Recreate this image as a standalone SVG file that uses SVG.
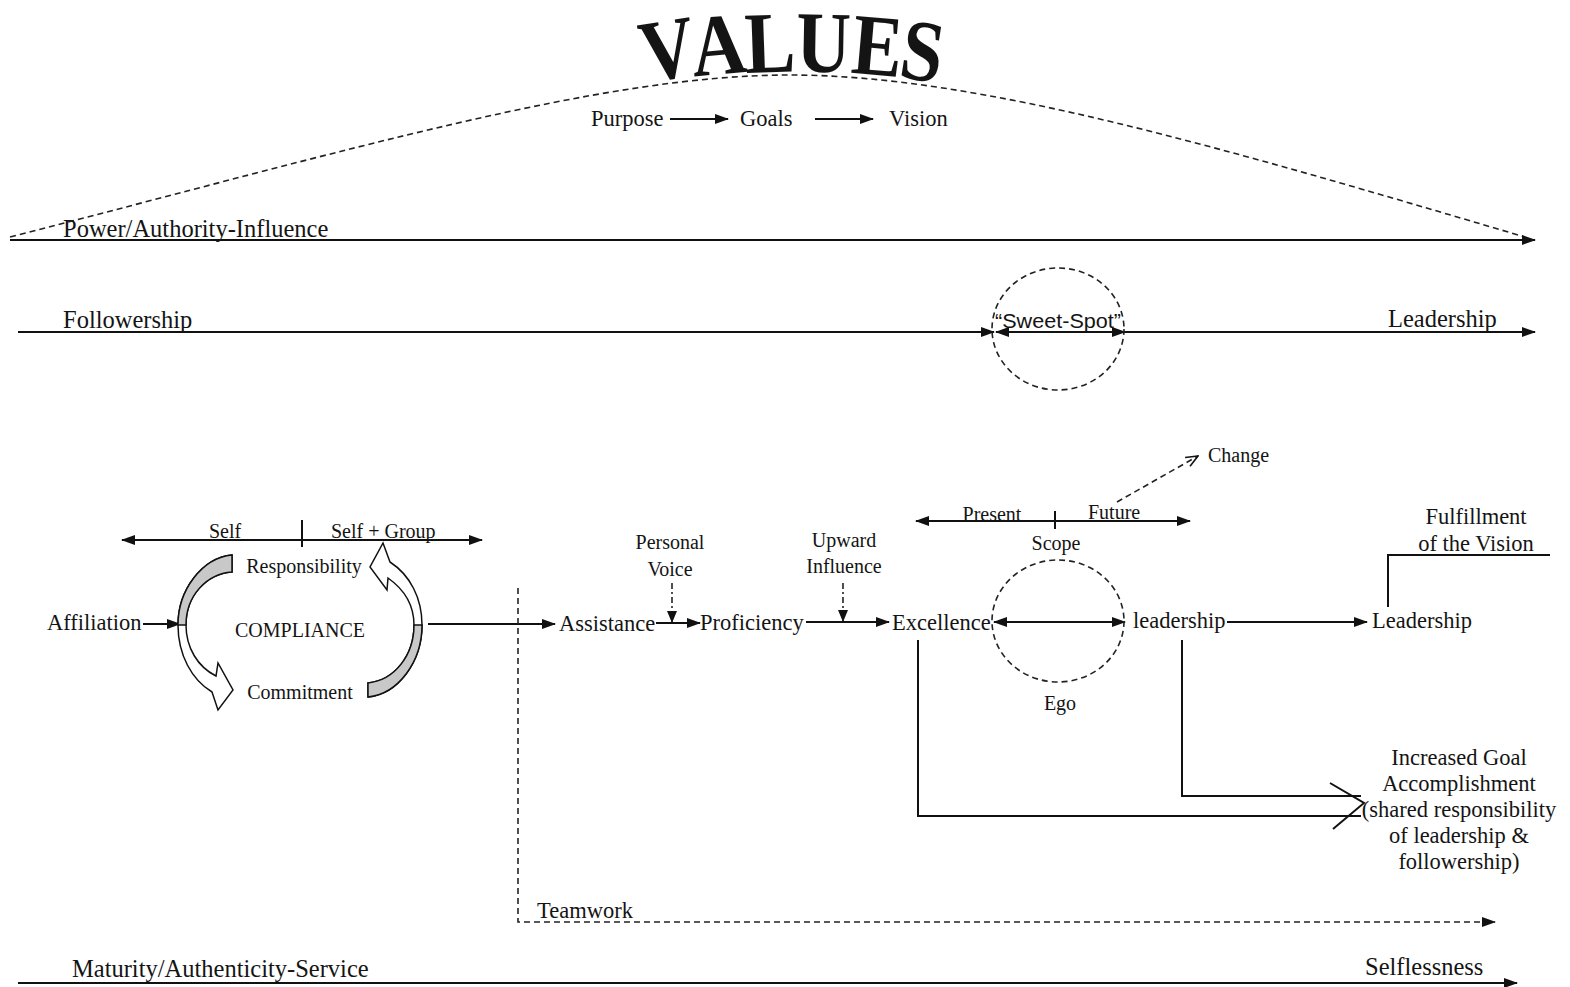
<svg xmlns="http://www.w3.org/2000/svg" width="1570" height="987" viewBox="0 0 1570 987">
<style>
text{font-family:"Liberation Serif","Times New Roman",serif;fill:#141414}
.big{font-size:24.5px}
.mid{font-size:22.5px}
.sm{font-size:20px}
.c{text-anchor:middle}
.val{font-size:84px;font-weight:bold;text-anchor:middle}
.ln{stroke:#111;stroke-width:2;fill:none}
.dash{stroke:#222;stroke-width:1.6;fill:none;stroke-dasharray:6 4}
.dd{stroke:#222;stroke-width:1.6;fill:none;stroke-dasharray:6 3 2 3}
.arr{stroke:#111;stroke-width:1.5;fill:#fff}
.gray{fill:#c8c8c8;stroke:#111;stroke-width:1.5}
</style>
<defs>
<marker id="ah" viewBox="0 0 14 10" refX="13" refY="5" markerWidth="14" markerHeight="10" orient="auto-start-reverse" markerUnits="userSpaceOnUse"><path d="M0,0 L14,5 L0,10 z" fill="#111"/></marker>
<marker id="ahs" viewBox="0 0 12 10" refX="11" refY="5" markerWidth="12" markerHeight="10" orient="auto" markerUnits="userSpaceOnUse"><path d="M0,0 L12,5 L0,10 z" fill="#111"/></marker>
<marker id="open" viewBox="0 0 14 12" refX="13" refY="6" markerWidth="14" markerHeight="12" orient="auto" markerUnits="userSpaceOnUse"><path d="M1,1 L13,6 L1,11" fill="none" stroke="#111" stroke-width="1.6"/></marker>
</defs>

<g id="title">
<text class="val" transform="translate(672,78) rotate(-9) scale(0.9,1.04)">V</text>
<text class="val" transform="translate(721,74) rotate(-5) scale(0.9,1.04)">A</text>
<text class="val" transform="translate(771,72) rotate(-2) scale(0.9,1.04)">L</text>
<text class="val" transform="translate(823,72) rotate(1) scale(0.9,1.04)">U</text>
<text class="val" transform="translate(875,75) rotate(5) scale(0.9,1.04)">E</text>
<text class="val" transform="translate(918,80) rotate(9) scale(0.9,1.04)">S</text>
</g>

<g id="connectors">
<path class="dash" d="M10,237 C350,150 600,75 790,75 C980,75 1230,150 1525,237"/>
<line class="ln" x1="670" y1="119" x2="728" y2="119" marker-end="url(#ah)"/>
<line class="ln" x1="815" y1="119" x2="873" y2="119" marker-end="url(#ah)"/>
<line class="ln" x1="10" y1="240" x2="1535" y2="240" marker-end="url(#ah)"/>
<line class="ln" x1="18" y1="332" x2="994" y2="332" marker-end="url(#ah)"/>
<line class="ln" x1="996" y1="332" x2="1125" y2="332" marker-start="url(#ah)" marker-end="url(#ah)"/>
<line class="ln" x1="1125" y1="332" x2="1535" y2="332" marker-end="url(#ah)"/>
<line class="ln" x1="122" y1="540" x2="482" y2="540" marker-start="url(#ah)" marker-end="url(#ah)"/>
<line class="ln" x1="302" y1="520" x2="302" y2="547" stroke-width="1.5"/>
<line class="ln" x1="143" y1="624" x2="180" y2="624" marker-end="url(#ah)"/>
<line class="ln" x1="428" y1="624" x2="555" y2="624" marker-end="url(#ah)"/>
<line class="ln" x1="656" y1="623" x2="700" y2="623" marker-end="url(#ah)"/>
<line class="dd" x1="672" y1="583" x2="672" y2="622" marker-end="url(#ahs)"/>
<line class="ln" x1="806" y1="622" x2="889" y2="622" marker-end="url(#ah)"/>
<line class="dd" x1="843" y1="583" x2="843" y2="621" marker-end="url(#ahs)"/>
<line class="ln" x1="994" y1="622" x2="1125" y2="622" marker-start="url(#ah)" marker-end="url(#ah)"/>
<line class="ln" x1="1227" y1="622" x2="1367" y2="622" marker-end="url(#ah)"/>
<polyline class="ln" points="1388,607 1388,555 1550,555" stroke-width="1.5"/>
<line class="ln" x1="916" y1="521" x2="1190" y2="521" marker-start="url(#ah)" marker-end="url(#ah)"/>
<line class="ln" x1="1055" y1="511" x2="1055" y2="529" stroke-width="1.5"/>
<line class="dash" x1="1117" y1="502" x2="1198" y2="456" stroke-width="2" marker-end="url(#open)"/>
<polyline class="ln" points="918,640 918,816 1361,816" stroke-width="1.5"/>
<polyline class="ln" points="1182,640 1182,796 1361,796" stroke-width="1.5"/>
<polyline class="ln" points="1330,783 1364,803 1333,829" stroke-width="1.5"/>
<polyline class="dash" points="518,588 518,922 1495,922" stroke-width="2" stroke-dasharray="8 5" marker-end="url(#ah)"/>
<line class="ln" x1="18" y1="983" x2="1517" y2="983" marker-end="url(#ah)"/>
</g>

<g id="sweet-spot">
<ellipse class="dash" cx="1058" cy="329" rx="66" ry="61"/>
<text x="1058" y="328" text-anchor="middle" style="font-family:'Liberation Sans',Arial,sans-serif;font-size:20px" textLength="126" lengthAdjust="spacingAndGlyphs">“Sweet-Spot”</text>
</g>

<g id="ego">
<ellipse class="dash" cx="1058" cy="621" rx="66" ry="61"/>
<text class="sm c" x="1060" y="710">Ego</text>
</g>

<g id="cycle">
<path class="arr" d="M232,555 C202,558 178,590 178,625 C178,655 192,680 212,692 L218,710 L233,690 L218,663 L216,676 C198,667 186,648 186,625 C186,596 206,574 232,572 Z"/>
<path class="gray" d="M232,555 C202,558 178,590 178,625 L186,625 C186,596 206,574 232,572 Z"/>
<path class="arr" d="M368,697 C398,694 422,662 422,625 C422,598 410,575 390,562 L383,543 L370,567 L387,590 L388,578 C405,590 414,605 414,625 C414,655 395,680 368,683 Z"/>
<path class="gray" d="M368,697 C398,694 422,662 422,625 L414,625 C414,655 395,680 368,683 Z"/>
<text class="sm c" x="304" y="573">Responsibility</text>
<text class="sm c" x="300" y="637">COMPLIANCE</text>
<text class="sm c" x="300" y="699">Commitment</text>
</g>

<g id="scale-self"><text class="sm c" x="225" y="538">Self</text><text class="sm" x="331" y="538">Self + Group</text></g>
<g id="purpose"><text class="mid" x="591" y="126">Purpose</text></g>
<g id="goals"><text class="mid" x="740" y="126">Goals</text></g>
<g id="vision"><text class="mid" x="889" y="126">Vision</text></g>
<g id="power"><text class="big" x="63" y="237">Power/Authority-Influence</text></g>
<g id="followership"><text class="big" x="63" y="328">Followership</text></g>
<g id="leadership-top"><text class="big" x="1388" y="327">Leadership</text></g>
<g id="affiliation"><text class="mid" x="47" y="630">Affiliation</text></g>
<g id="assistance"><text class="mid" x="559" y="631">Assistance</text></g>
<g id="personal-voice"><text class="sm c" x="670" y="549">Personal</text><text class="sm c" x="670" y="576">Voice</text></g>
<g id="proficiency"><text class="mid" x="700" y="630">Proficiency</text></g>
<g id="upward"><text class="sm c" x="844" y="547">Upward</text><text class="sm c" x="844" y="573">Influence</text></g>
<g id="excellence"><text class="mid" x="892" y="630">Excellence</text></g>
<g id="leadership-low"><text class="mid" x="1133" y="628">leadership</text></g>
<g id="leadership-final"><text class="mid" x="1372" y="628">Leadership</text></g>
<g id="scope"><text class="sm c" x="992" y="521">Present</text><text class="sm" x="1088" y="519">Future</text><text class="sm c" x="1056" y="550">Scope</text></g>
<g id="change"><text class="sm" x="1208" y="462">Change</text></g>
<g id="fulfillment"><text class="mid c" x="1476" y="524">Fulfillment</text><text class="mid c" x="1476" y="551">of the Vision</text></g>
<g id="goal-accomplishment">
<text class="mid c" x="1459" y="765">Increased Goal</text>
<text class="mid c" x="1459" y="791">Accomplishment</text>
<text class="mid c" x="1459" y="817">(shared responsibility</text>
<text class="mid c" x="1459" y="843">of leadership &amp;</text>
<text class="mid c" x="1459" y="869">followership)</text>
</g>
<g id="teamwork"><text class="mid" x="537" y="918">Teamwork</text></g>
<g id="maturity"><text class="big" x="72" y="977">Maturity/Authenticity-Service</text></g>
<g id="selflessness"><text class="big" x="1365" y="975">Selflessness</text></g>
</svg>
